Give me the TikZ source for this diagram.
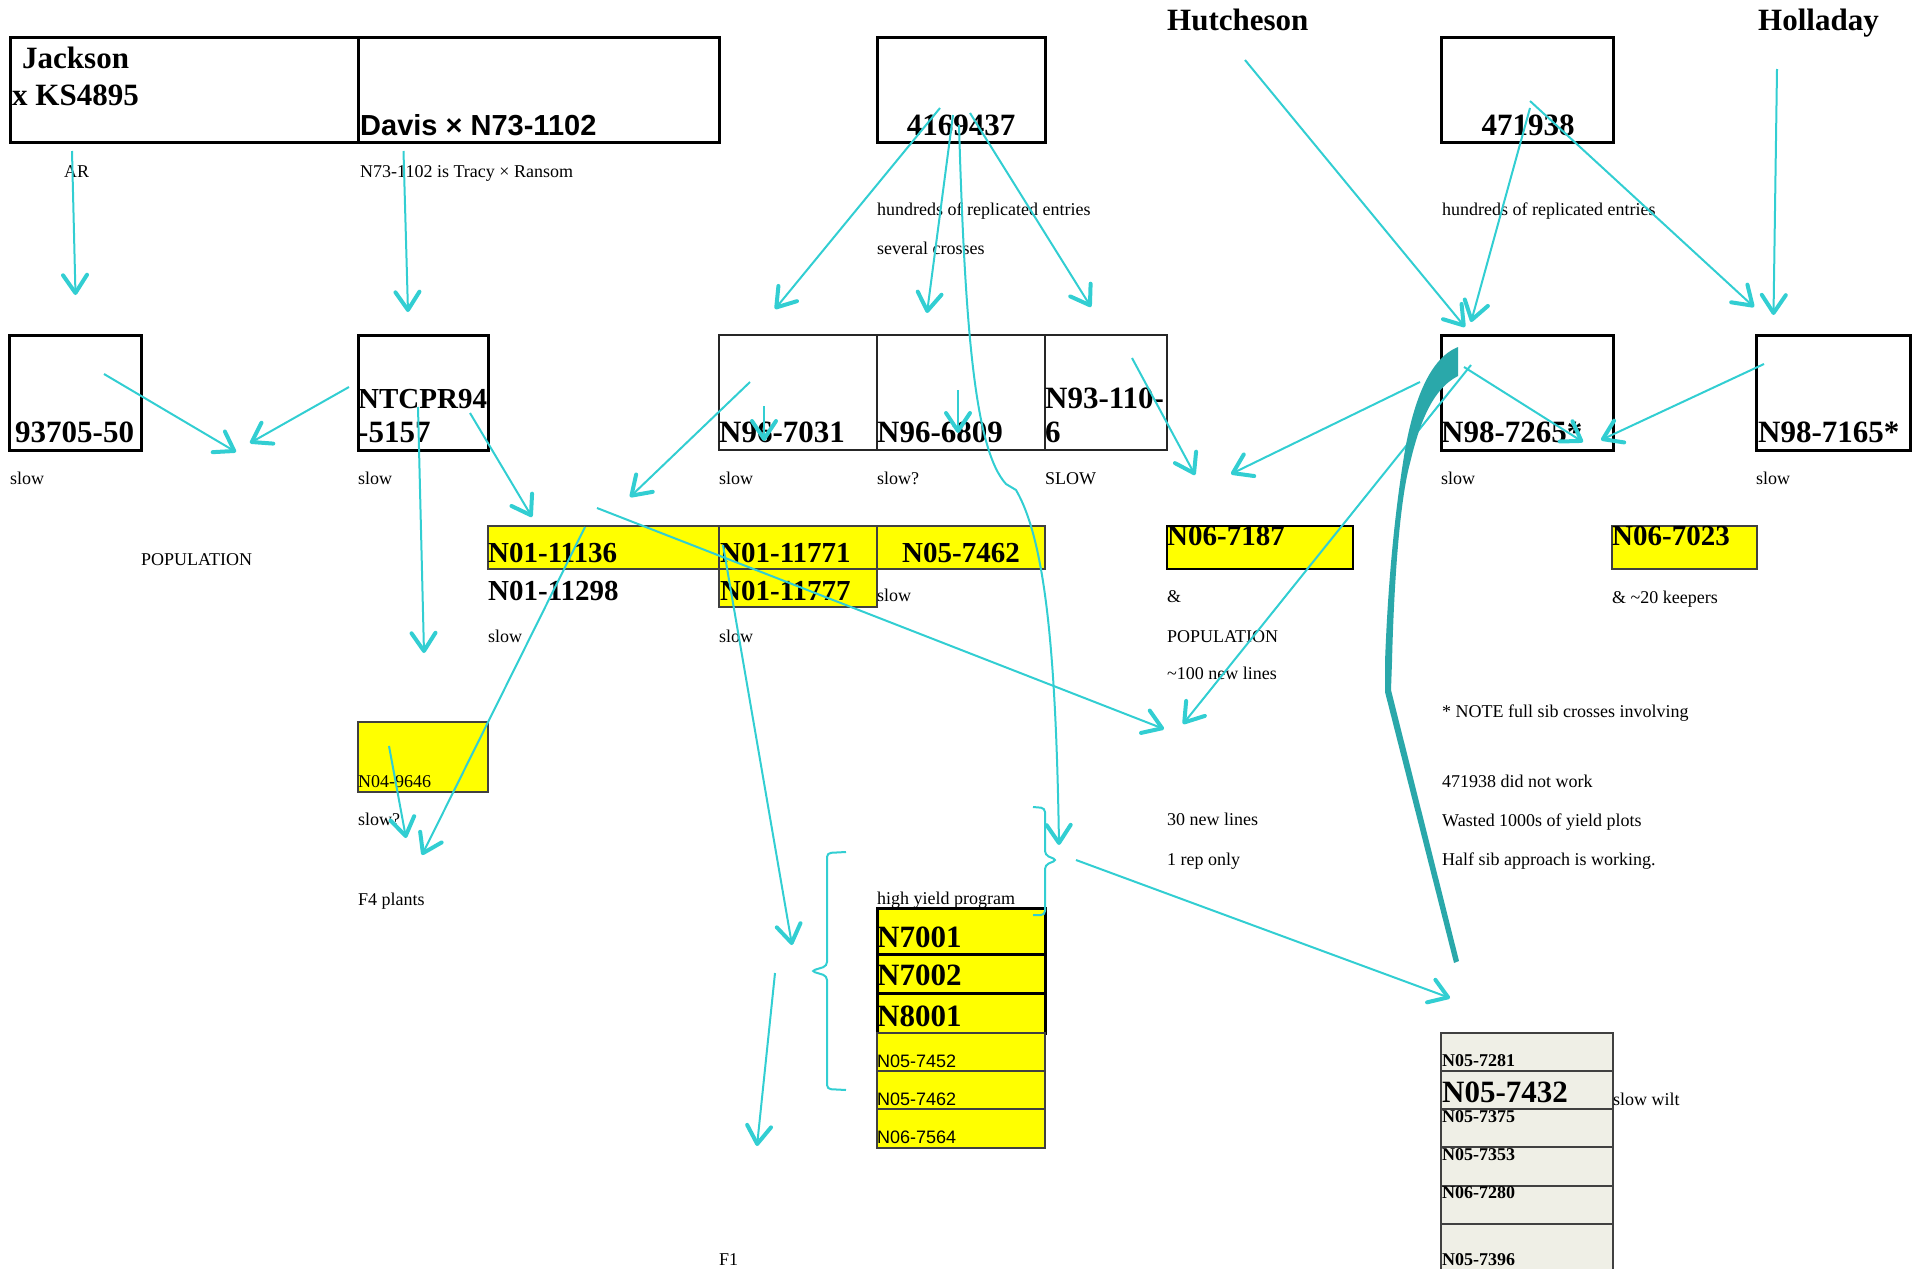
\documentclass[tikz,border=0pt]{standalone}
\usepackage{fontspec}
\setmainfont{Liberation Serif}
\setsansfont{Liberation Sans}
\usetikzlibrary{arrows.meta}

\definecolor{linkcyan}{RGB}{50,206,210}
\definecolor{penteal}{RGB}{42,168,170}
\definecolor{hiyellow}{RGB}{255,255,0}
\definecolor{wiltgray}{RGB}{239,239,230}

\tikzset{
  box/.style={draw=black, line width=3pt, anchor=north west, inner sep=0pt, outer sep=0pt},
  thinbox/.style={draw=black!85, line width=1.3pt, anchor=north west, inner sep=0pt, outer sep=0pt},
  ybox/.style={draw=black!75, line width=2pt, fill=hiyellow, anchor=north west, inner sep=0pt, outer sep=0pt},
  gbox/.style={draw=black!75, line width=2pt, fill=wiltgray, anchor=north west, inner sep=0pt, outer sep=0pt},
  bigname/.style={font=\fontsize{31}{31}\selectfont\bfseries, anchor=base west, inner sep=0pt},
  midname/.style={font=\fontsize{29}{29}\selectfont\bfseries, anchor=base west, inner sep=0pt},
  smallname/.style={font=\fontsize{18}{18}\selectfont\bfseries, anchor=base west, inner sep=0pt},
  note/.style={font=\fontsize{18}{18}\selectfont, anchor=base west, inner sep=0pt},
  sansnote/.style={font=\sffamily\fontsize{18}{18}\selectfont, anchor=base west, inner sep=0pt},
  link/.style={draw=linkcyan, line width=2pt,
    -{Straight Barb[length=18pt,width=24pt,line width=4pt,round]}},
  bracket/.style={draw=linkcyan, line width=2pt, rounded corners=4pt},
}

\begin{document}
\begin{tikzpicture}[x=1pt, y=-1pt]
\useasboundingbox (0,0) rectangle (1925,1269);

% top row
\node[box, minimum width=348, minimum height=105] (jackbox) at (10,37) {};
\node[box, minimum width=361, minimum height=105] (davisbox) at (358,37) {};
\node[box, minimum width=168, minimum height=105] (pibox) at (877,37) {};
\node[box, minimum width=172, minimum height=105] (p471box) at (1441,37) {};
\node[bigname] (jackson) at (22,68) {Jackson};
\node[bigname] (ks4895) at (12,105) {x KS4895};
\node[anchor=base west, inner sep=0pt, font=\sffamily\fontsize{29}{29}\selectfont\bfseries] (davis) at (360,135) {Davis × N73-1102};
\node[bigname, anchor=base] (pi4169) at (961,135) {4169437};
\node[bigname] (hutcheson) at (1167,30) {Hutcheson};
\node[bigname, anchor=base] (pi4719) at (1528,135) {471938};
\node[bigname] (holladay) at (1758,30) {Holladay};

\node[note] (ar) at (64,177) {AR};
\node[note] (tracy) at (360,177) {N73-1102 is Tracy × Ransom};
\node[note] (hundreds) at (877,215) {hundreds of replicated entries};
\node[note] (several) at (877,254) {several crosses};
\node[note] (hundredsb) at (1442,215) {hundreds of replicated entries};

% second row
\node[box, minimum width=132, minimum height=115] (b9370) at (9,335) {};
\node[box, minimum width=130, minimum height=115] (bntc) at (358,335) {};
\node[thinbox, minimum width=158, minimum height=115] (b7031) at (719,335) {};
\node[thinbox, minimum width=168, minimum height=115] (b6809) at (877,335) {};
\node[thinbox, minimum width=122, minimum height=115] (b1106) at (1045,335) {};
\node[box, minimum width=172, minimum height=115] (b7265) at (1441,335) {};
\node[box, minimum width=154, minimum height=115] (b7165) at (1756,335) {};
\node[bigname] (n9370) at (15,442) {93705-50};
\node[bigname, font=\fontsize{29}{31}\selectfont\bfseries] (ntca) at (358,408) {NTCPR94};
\node[bigname] (ntcb) at (358,442) {-5157};
\node[bigname] (n7031) at (719,442) {N96-7031};
\node[bigname] (n6809) at (877,442) {N96-6809};
\node[bigname] (n1106a) at (1045,408) {N93-110-};
\node[bigname] (n1106b) at (1045,442) {6};
\node[bigname] (n7265) at (1441,442) {N98-7265*};
\node[bigname] (n7165) at (1758,442) {N98-7165*};

\node[note] (slowa) at (10,484) {slow};
\node[note] (slowb) at (358,484) {slow};
\node[note] (slowc) at (719,484) {slow};
\node[note] (slowd) at (877,484) {slow?};
\node[note] (slowe) at (1045,484) {SLOW};
\node[note] (slowf) at (1441,484) {slow};
\node[note] (slowg) at (1756,484) {slow};
\node[note] (popa) at (141,565) {POPULATION};

% third row
\node[ybox, minimum width=231, minimum height=43] (y11136) at (488,526) {};
\node[ybox, minimum width=158, minimum height=43] (y11771) at (719,526) {};
\node[ybox, minimum width=158, minimum height=38] (y11777) at (719,569) {};
\node[ybox, minimum width=168, minimum height=43] (y7462) at (877,526) {};
\node[ybox, minimum width=186, minimum height=43, line width=2.5pt, draw=black] (y7187) at (1167,526) {};
\node[ybox, minimum width=145, minimum height=43] (y7023) at (1612,526) {};
\node[midname] (n11136) at (488,562) {N01-11136};
\node[midname] (n11298) at (488,600) {N01-11298};
\node[midname] (n11771) at (720,562) {N01-11771};
\node[midname] (n11777) at (720,600) {N01-11777};
\node[midname, anchor=base] (n7462) at (961,562) {N05-7462};
\node[midname] (n7187) at (1167,545) {N06-7187};
\node[midname] (n7023) at (1612,545) {N06-7023};

\node[note] (slowh) at (877,601) {slow};
\node[note] (slowi) at (488,642) {slow};
\node[note] (slowj) at (719,642) {slow};
\node[note] (amp) at (1167,602) {\&};
\node[note] (popb) at (1167,642) {POPULATION};
\node[note] (hundredlines) at (1167,679) {\textasciitilde100 new lines};
\node[note] (keepers) at (1612,603) {\& \textasciitilde20 keepers};
\node[note] (notea) at (1442,717) {* NOTE full sib crosses involving};
\node[note] (noteb) at (1442,787) {471938 did not work};
\node[note] (notec) at (1442,826) {Wasted 1000s of yield plots};
\node[note] (noted) at (1442,865) {Half sib approach is working.};
\node[note] (thirty) at (1167,825) {30 new lines};
\node[note] (onerep) at (1167,865) {1 rep only};

\node[ybox, minimum width=130, minimum height=70] (y9646) at (358,722) {};
\node[note] (n9646) at (358,787) {N04-9646};
\node[note] (slowk) at (358,825) {slow?};
\node[note] (f4) at (358,905) {F4 plants};

% high yield program
\node[note] (hiyield) at (877,904) {high yield program};
\node[ybox, draw=black, line width=3pt, minimum width=168, minimum height=46] (h7001) at (877,908) {};
\node[ybox, draw=black, line width=3pt, minimum width=168, minimum height=39] (h7002) at (877,954) {};
\node[ybox, draw=black, line width=3pt, minimum width=168, minimum height=40] (h8001) at (877,993) {};
\node[ybox, minimum width=168, minimum height=38] (h7452) at (877,1033) {};
\node[ybox, minimum width=168, minimum height=38] (h7462) at (877,1071) {};
\node[ybox, minimum width=168, minimum height=39] (h7564) at (877,1109) {};
\node[bigname] (n7001) at (877,947) {N7001};
\node[bigname] (n7002) at (877,985) {N7002};
\node[bigname] (n8001) at (877,1026) {N8001};
\node[sansnote] (s7452) at (877,1067) {N05-7452};
\node[sansnote] (s7462) at (877,1105) {N05-7462};
\node[sansnote] (s7564) at (877,1143) {N06-7564};
\node[note] (fone) at (719,1265) {F1};

% slow wilt stack
\node[gbox, minimum width=172, minimum height=38] (g7281) at (1441,1033) {};
\node[gbox, minimum width=172, minimum height=38] (g7432) at (1441,1071) {};
\node[gbox, minimum width=172, minimum height=38] (g7375) at (1441,1109) {};
\node[gbox, minimum width=172, minimum height=39] (g7353) at (1441,1147) {};
\node[gbox, minimum width=172, minimum height=38] (g7280) at (1441,1186) {};
\node[gbox, minimum width=172, minimum height=60] (g7396) at (1441,1224) {};
\node[smallname] (w7281) at (1442,1066) {N05-7281};
\node[bigname] (w7432) at (1442,1102) {N05-7432};
\node[smallname] (w7375) at (1442,1122) {N05-7375};
\node[smallname] (w7353) at (1442,1160) {N05-7353};
\node[smallname] (w7280) at (1442,1198) {N06-7280};
\node[smallname] (w7396) at (1442,1265) {N05-7396};
\node[note] (wilt) at (1613,1105) {slow wilt};

% arrow ends
\coordinate (arTail) at (72,151);        \coordinate (arHead) at (75.5,295);
\coordinate (davisTail) at (403.5,151);  \coordinate (davisHead) at (408,312);
\coordinate (pop9370Tail) at (104,374);  \coordinate (pop9370Head) at (236,452);
\coordinate (popntcTail) at (349,387);   \coordinate (popntcHead) at (250,443);
\coordinate (ntcdownTail) at (418,407);  \coordinate (ntcdownHead) at (424,653);
\coordinate (ntcrightTail) at (470,413); \coordinate (ntcrightHead) at (532,517);
\coordinate (sevenTail) at (750,382);    \coordinate (sevenHead) at (630,497);
\coordinate (sevensTail) at (764,406);   \coordinate (sevensHead) at (764,441);
\coordinate (sixsTail) at (958,390);     \coordinate (sixsHead) at (958,433);
\coordinate (piaTail) at (940,108);      \coordinate (piaHead) at (775,309);
\coordinate (pibTail) at (953,115);      \coordinate (pibHead) at (927,313);
\coordinate (picTail) at (970,113);      \coordinate (picHead) at (1091,307);
\coordinate (nthreeTail) at (1132,358);  \coordinate (nthreeHead) at (1195,475);
\coordinate (sibTail) at (1420,382);     \coordinate (sibHead) at (1231,474);
\coordinate (hutTail) at (1245,60);      \coordinate (hutHead) at (1465,327);
\coordinate (pidTail) at (1530,108);     \coordinate (pidHead) at (1471,322);
\coordinate (pieTail) at (1530,101);     \coordinate (pieHead) at (1754,307);
\coordinate (holTail) at (1777,69);      \coordinate (holHead) at (1773.5,315);
\coordinate (selfTail) at (1464,367);    \coordinate (selfHead) at (1583,442);
\coordinate (halfTail) at (1764,364);    \coordinate (halfHead) at (1601,440);
\coordinate (hundredTail) at (1471,365); \coordinate (hundredHead) at (1183,724);
\coordinate (crossTail) at (597,508);    \coordinate (crossHead) at (1164,729);
\coordinate (fourTail) at (585,527);     \coordinate (fourHead) at (422,855);
\coordinate (ninesixTail) at (389,746);  \coordinate (ninesixHead) at (406,838);
\coordinate (elevenTail) at (723,545);   \coordinate (elevenHead) at (792,945);
\coordinate (foneTail) at (775,973);     \coordinate (foneHead) at (757,1146);
\coordinate (wiltTail) at (1076,860);    \coordinate (wiltHead) at (1450,998);
\coordinate (longTail) at (959,125);     \coordinate (longHead) at (1059,845);

\foreach \c in {ar,davis,pop9370,popntc,ntcdown,ntcright,seven,sevens,sixs,pia,pib,pic,
  nthree,sib,hut,pid,pie,hol,self,half,hundred,cross,four,ninesix,eleven,fone,wilt}
  \draw[link] (\c Tail) -- (\c Head);

\draw[link] (longTail) .. controls (965,330) and (975,450) .. (1006,484) -- (1016,490)
  .. controls (1045,540) and (1056,650) .. (longHead);

% brackets
\draw[bracket] (1033,807) -- (1045,808) -- (1045,855) -- (1057,860) -- (1045,865) -- (1045,915) -- (1033,915);
\draw[bracket] (846,852) -- (827,853) -- (827,966) -- (811,971) -- (827,976) -- (827,1089) -- (846,1090);

% pen stroke
\fill[penteal] (1458,347) .. controls (1430,358) and (1414,400) .. (1405,450)
  .. controls (1395,510) and (1388,580) .. (1385,662) -- (1385,692) -- (1454,963)
  -- (1459,961) -- (1391,690) -- (1392,662) .. controls (1394,580) and (1400,500) .. (1410,463)
  .. controls (1418,430) and (1430,390) .. (1458,376) -- cycle;
\end{tikzpicture}
\end{document}
